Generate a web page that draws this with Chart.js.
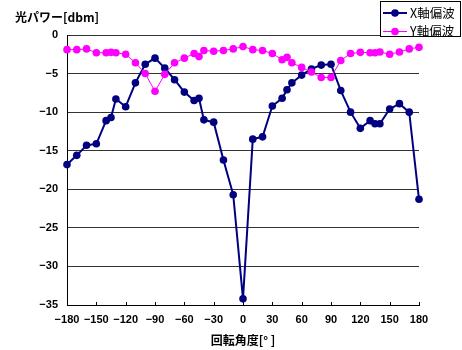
<!DOCTYPE html>
<html>
<head>
<meta charset="utf-8">
<script src="https://cdn.jsdelivr.net/npm/chart.js@4"></script>
<style>
  html, body { margin: 0; padding: 0; background: #fff; }
  #c { display: block; }
</style>
</head>
<body>
<canvas id="c" width="462" height="350"></canvas>
<script>
// Rotation angle [deg] and measured optical power [dBm] for each polarization
const angles = [-180, -170, -160, -150, -140, -135, -130, -120, -110, -100, -90,
                -80, -70, -60, -50, -45, -40, -30, -20, -10, 0,
                10, 20, 30, 40, 45, 50, 60, 70, 80, 90,
                100, 110, 120, 130, 135, 140, 150, 160, 170, 180];
const xPolarization = [-16.8, -15.6, -14.3, -14.1, -11.1, -10.7, -8.3, -9.3, -6.2, -3.8, -3.0,
                       -4.3, -5.8, -7.4, -8.5, -8.2, -11.0, -11.3, -16.2, -20.7, -34.2,
                       -13.5, -13.2, -9.2, -8.2, -7.1, -6.2, -5.2, -4.4, -3.9, -3.8,
                       -7.2, -10.0, -12.1, -11.1, -11.5, -11.5, -9.6, -8.9, -10.0, -21.3];
const yPolarization = [-1.9, -1.9, -1.8, -2.3, -2.3, -2.25, -2.3, -2.5, -3.6, -5.0, -7.3,
                       -5.1, -3.6, -3.0, -2.4, -2.8, -2.0, -2.1, -2.0, -1.8, -1.5,
                       -1.9, -2.0, -2.4, -3.2, -2.9, -3.6, -4.2, -4.8, -5.5, -5.5,
                       -3.3, -2.4, -2.25, -2.3, -2.3, -2.2, -2.5, -2.2, -1.8, -1.6];
const seriesNames = ['X軸偏波', 'Y軸偏波'];
const yAxisTitle = '光パワー[dbm]';
const xAxisTitle = '回転角度[° ]';

const toPoints = vals => angles.map((a, i) => ({ x: a, y: vals[i] }));
const minus = v => String(v).replace('-', '\u2212');

const tickFont = { family: '"Liberation Sans", Arial, sans-serif', size: 11, weight: 'bold' };
const cjkBold = 'bold 12px "Noto Sans CJK JP", sans-serif';

// Short tick marks pointing up into the plot from the x axis
const innerTicks = {
  id: 'innerTicks',
  beforeDatasetsDraw(chart) {
    const { ctx, chartArea, scales: { x } } = chart;
    ctx.save();
    ctx.strokeStyle = '#000';
    ctx.lineWidth = 1;
    x.ticks.forEach(t => {
      const px = Math.round(x.getPixelForValue(t.value)) + 0.5;
      ctx.beginPath();
      ctx.moveTo(px, chartArea.bottom);
      ctx.lineTo(px, chartArea.bottom - 3);
      ctx.stroke();
    });
    ctx.restore();
  }
};

// Y axis title at top-left and boxed legend at top-right
const decorations = {
  id: 'decorations',
  afterDraw(chart) {
    const ctx = chart.ctx;
    ctx.save();
    ctx.fillStyle = '#000';
    ctx.font = cjkBold;
    ctx.textBaseline = 'middle';
    ctx.textAlign = 'left';
    ctx.fillText(yAxisTitle, 15, 17);

    // legend box
    ctx.fillStyle = '#fff';
    ctx.fillRect(380.5, 1.5, 80, 35);
    ctx.strokeStyle = '#000';
    ctx.lineWidth = 1;
    ctx.strokeRect(380.5, 1.5, 80, 35);
    const rows = [13, 31.5];
    chart.data.datasets.forEach((ds, i) => {
      const y = rows[i];
      ctx.strokeStyle = ds.borderColor;
      ctx.lineWidth = ds.borderWidth;
      ctx.beginPath();
      ctx.moveTo(383, y);
      ctx.lineTo(407, y);
      ctx.stroke();
      ctx.fillStyle = ds.backgroundColor;
      ctx.beginPath();
      ctx.arc(395, y, ds.pointRadius, 0, Math.PI * 2);
      ctx.fill();
      ctx.fillStyle = '#000';
      ctx.font = '12.5px "Noto Sans CJK JP", sans-serif';
      ctx.textBaseline = 'middle';
      ctx.fillText(ds.label, 410, y);
    });
    ctx.restore();
  }
};

new Chart(document.getElementById('c'), {
  type: 'scatter',
  data: {
    datasets: [
      {
        label: seriesNames[0],
        data: toPoints(xPolarization),
        showLine: true,
        borderColor: '#000080',
        backgroundColor: '#000080',
        borderWidth: 2,
        pointRadius: 3.8,
        pointBorderWidth: 0,
        order: 1,
        clip: false
      },
      {
        label: seriesNames[1],
        data: toPoints(yPolarization),
        showLine: true,
        borderColor: '#ff00ff',
        backgroundColor: '#ff00ff',
        borderWidth: 1,
        pointRadius: 3.8,
        pointBorderWidth: 0,
        order: 0,
        clip: false
      }
    ]
  },
  options: {
    responsive: false,
    animation: false,
    devicePixelRatio: 1,
    layout: { padding: { left: 0, right: 43, top: 35, bottom: 0 } },
    plugins: { legend: { display: false }, tooltip: { enabled: false } },
    scales: {
      x: {
        type: 'linear',
        min: -180,
        max: 180,
        afterFit(scale) { scale.height = 45; },
        ticks: { stepSize: 30, color: '#000', font: tickFont, padding: 8, maxRotation: 0,
                 callback: v => minus(v) },
        grid: { display: false, drawTicks: false },
        border: { display: true, color: '#000', width: 1 },
        title: {
          display: true,
          text: xAxisTitle,
          color: '#000',
          font: { family: '"Noto Sans CJK JP", sans-serif', size: 12, weight: 'bold' },
          padding: { top: 0, bottom: 2 }
        }
      },
      y: {
        min: -35,
        max: 0,
        afterFit(scale) { scale.width = 67; },
        ticks: { stepSize: 5, color: '#000', font: tickFont, padding: 9,
                 callback: v => minus(v) },
        grid: { color: '#333', lineWidth: 1, drawTicks: false },
        border: { display: true, color: '#000', width: 1 }
      }
    }
  },
  plugins: [innerTicks, decorations]
});
</script>
</body>
</html>
